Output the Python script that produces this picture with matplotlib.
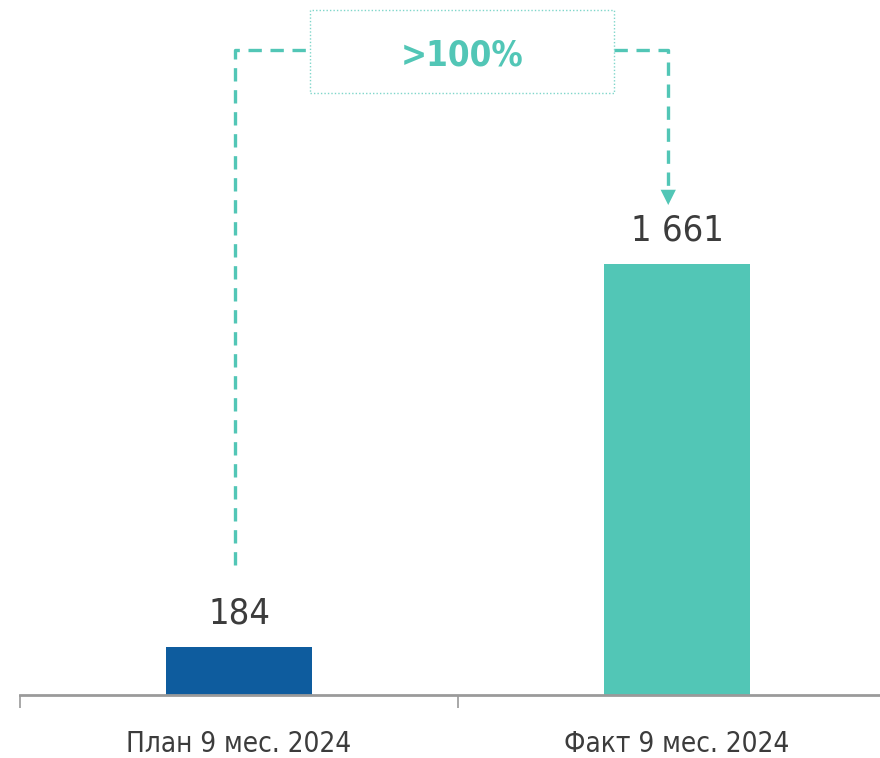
#!/usr/bin/env python

import sys
import matplotlib
matplotlib.use("Agg")
import matplotlib.pyplot as plt
from matplotlib.patches import Rectangle

categories = ["План 9 мес. 2024", "Факт 9 мес. 2024"]
values = [184, 1661]
bar_colors = ["#0E5C9E", "#52C6B6"]
growth_label = ">100%"

TEAL = "#52C6B6"
TEXT = "#3C3C3C"


def main():
    plt.rcParams['font.family'] = ["DejaVu Sans"]
    plt.rcParams['font.stretch'] = "condensed"
    fig = plt.figure(figsize=(8.8, 7.58), dpi=100)
    # axis runs past the right edge of the picture, as in the original
    ax = fig.add_axes([20 / 880, 63 / 758, 876 / 880, 695 / 758])

    x = list(range(len(values)))
    ax.bar(x, values, width=0.333, color=bar_colors, zorder=2)
    ax.set_xlim(-0.5, 1.5)
    ax.set_ylim(0, 2678)

    for xi, v in zip(x, values):
        ax.annotate(f"{v:,}".replace(",", " "), (xi, v), xytext=(0, 12),
                    textcoords="offset points", ha="center", va="bottom",
                    fontsize=26, color=TEXT, fontstretch="condensed",
                    fontweight="light")

    for s in ["top", "right", "left"]:
        ax.spines[s].set_visible(False)
    ax.spines["bottom"].set_color("#9A9A9A")
    ax.spines["bottom"].set_linewidth(2)
    ax.set_yticks([])
    ax.set_xticks(x)
    ax.set_xticklabels(categories, fontsize=20, color=TEXT,
                       fontstretch="condensed")
    ax.tick_params(axis="x", which="major", length=0, pad=25)
    ax.set_xticks([-0.5, 0.5, 1.5], minor=True)
    ax.tick_params(axis="x", which="minor", length=9, width=1.2,
                   color="#9A9A9A")

    # dashed bracket from plan to fact
    left_x, right_x = -0.01, 0.98
    top_y = 2485
    dash = dict(color=TEAL, lw=2.4, ls=(0, (4, 2.6)), zorder=3)
    ax.plot([left_x, left_x, 0.162], [501, top_y, top_y], **dash)
    ax.plot([0.856, right_x, right_x], [top_y, top_y, 1950], **dash)
    ax.annotate("", xy=(right_x, 1888), xytext=(right_x, 1960),
                arrowprops=dict(arrowstyle="-|>,head_length=1.1,head_width=0.55",
                                color=TEAL, lw=0, shrinkA=0, shrinkB=0))

    box = Rectangle((0.162, 2320), 0.856 - 0.162, 320, fill=False,
                    edgecolor="#7FD6CA", lw=1, ls=(0, (1, 1.5)), zorder=3)
    ax.add_patch(box)
    ax.text(0.509, 2465, growth_label, ha="center", va="center",
            fontsize=25, fontweight="bold", color=TEAL,
            fontstretch="condensed")

    fig.savefig("out.png", dpi=100)
    return 0


if __name__ == "__main__":
    sys.exit(main())
